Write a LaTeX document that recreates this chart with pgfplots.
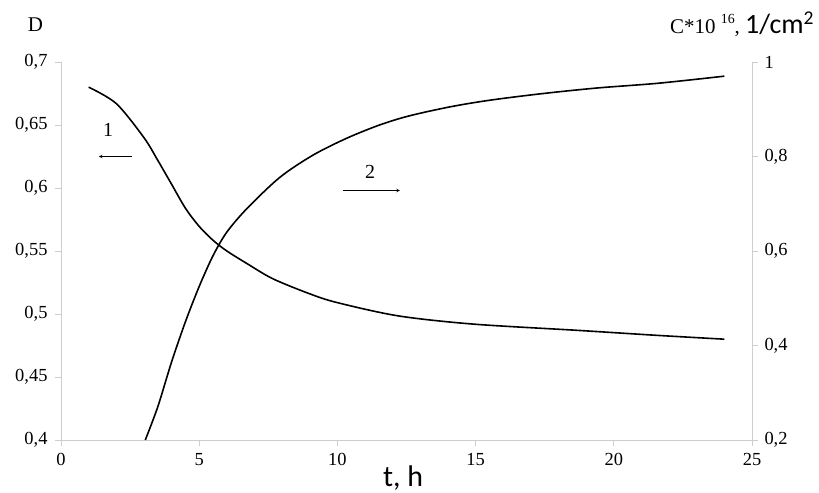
\documentclass[border=0pt]{standalone}
\usepackage{pgfplots}
\pgfplotsset{compat=1.18}
\usepackage{fontspec}
\setmainfont{Liberation Serif}
\newfontfamily\calfont{Carlito}

\definecolor{axisgray}{RGB}{205,205,205}

% curve 1: optical density D (left axis)
\pgfplotstableread{
t D
1     0.680
2     0.667
3     0.640
3.5   0.622
4     0.603
4.5   0.584
5     0.5695
5.5   0.5585
6     0.550
6.73  0.540
7.66  0.528
9     0.516
10    0.509
12.2  0.4985
14.9  0.492
18.7  0.487
21.6  0.483
24    0.480
}\curveone

% curve 2: concentration C*10^16 (right axis)
\pgfplotstableread{
t C
3.05  0.200
3.5   0.270
4     0.365
4.5   0.450
5     0.525
5.5   0.590
6     0.640
6.73  0.690
7.92  0.756
9.12  0.803
10.35 0.839
11.54 0.867
12.6  0.886
14.07 0.905
15.5  0.919
17.4  0.933
19.4  0.945
21.6  0.955
24    0.970
}\curvetwo

\begin{document}
\begin{tikzpicture}
\pgfplotsset{
  every axis/.append style={
    scale only axis, width=691bp, height=378bp,
    xmin=0, xmax=25,
    /pgf/number format/assume math mode=true,
    /pgf/number format/use comma,
    /pgf/number format/fixed,
    /pgf/number format/precision=2,
    every tick label/.append style={font=\fontsize{18.5}{18.5}\selectfont},
    axis line style={axisgray, line width=0.9bp},
    tick style={axisgray, line width=0.9bp},
    major tick length=6bp,
    tick align=outside,
    clip=false,
  }
}
\begin{axis}[
  axis x line*=bottom, axis y line*=left,
  ymin=0.4, ymax=0.7,
  ytick={0.4,0.45,0.5,0.55,0.6,0.65,0.7},
  xtick={0,5,10,15,20,25},
  xticklabel style={yshift=-4bp},
  yticklabel style={xshift=-4bp},
]
\addplot[black, line width=1.6bp, smooth] table[x=t, y=D] {\curveone};
\node[font=\fontsize{20}{20}\selectfont] at (axis cs:1.7,0.646) {1};
\draw[black, line width=0.6bp, -stealth] (axis cs:2.57,0.625) -- (axis cs:1.37,0.625);
\node[font=\fontsize{20}{20}\selectfont] at (axis cs:11.18,0.613) {2};
\draw[black, line width=0.6bp, -stealth] (axis cs:10.2,0.598) -- (axis cs:12.26,0.598);
\node[font=\fontsize{21}{21}\selectfont] at (rel axis cs:-0.037,1.10) {D};
\node[anchor=east, inner sep=2bp] at (rel axis cs:1.093,1.10)
  {\fontsize{21}{21}\selectfont C*10 \raisebox{0.45em}{\fontsize{14}{14}\selectfont 16}, {\calfont\fontsize{28}{28}\selectfont 1/cm\textsuperscript{2}}};
\node[font=\calfont\fontsize{30}{30}\selectfont, inner sep=1bp] at (rel axis cs:0.495,-0.100) {t, h};
\end{axis}
\begin{axis}[
  axis x line=none, axis y line*=right,
  ymin=0.2, ymax=1,
  ytick={0.2,0.4,0.6,0.8,1},
  yticklabel style={xshift=3bp},
]
\addplot[black, line width=1.6bp, smooth] table[x=t, y=C] {\curvetwo};
\end{axis}
\pgfresetboundingbox
\path[use as bounding box] (current axis.south west) ++(-61bp,-53bp) rectangle ([shift={(67bp,62bp)}]current axis.north east);
\end{tikzpicture}
\end{document}
